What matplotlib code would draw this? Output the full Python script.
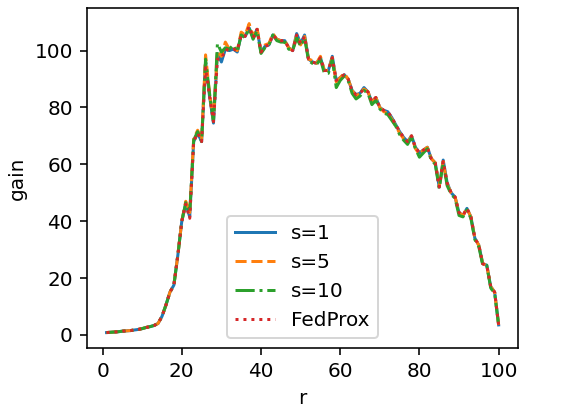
import numpy as np
import matplotlib; matplotlib.use("Agg")
import matplotlib.pyplot as plt

r = list(range(1, 101))

s1 = [0.8, 0.9, 1.0, 1.1, 1.3, 1.4, 1.5, 1.7, 1.9, 2.2, 2.6, 2.9, 3.3,
      4.0, 6.5, 10.5, 15.0, 17.5, 28.0, 40.0, 46.0, 41.5, 68.0, 71.0, 68.0, 96.0, 84.0, 74.5, 99.0, 96.0,
      100.5, 100.0, 100.5, 99.5, 105.5, 105.0, 108.0, 104.5, 107.5, 99.5, 101.5, 102.0, 105.5, 104.0, 103.5,
      103.5, 101.0, 100.0, 106.0, 102.5, 105.5, 97.0, 96.0, 95.5, 97.5, 93.0, 93.0, 98.0, 89.5, 90.5,
      91.5, 90.0, 86.0, 84.5, 85.0, 87.0, 85.5, 82.0, 83.5, 80.0, 79.0, 78.5, 76.5, 74.0, 71.5,
      69.5, 68.0, 70.0, 66.0, 64.0, 65.0, 66.0, 62.0, 60.5, 52.0, 61.5, 53.5, 50.0, 48.5, 43.0,
      42.0, 44.5, 41.5, 34.0, 31.5, 25.0, 24.5, 17.0, 15.0, 3.5]

s5 = [0.8, 0.9, 1.0, 1.1, 1.3, 1.4, 1.5, 1.7, 1.9, 2.2, 2.6, 2.9, 3.3,
      4.0, 6.5, 10.5, 15.0, 17.5, 28.0, 40.0, 47.0, 43.0, 69.0, 72.0, 68.5, 98.5, 85.0, 75.5, 100.0, 98.0,
      103.0, 100.5, 101.0, 100.0, 106.5, 105.5, 109.5, 105.0, 108.0, 99.5, 102.0, 102.5, 106.0, 104.0, 103.5,
      103.5, 101.0, 100.0, 105.5, 102.0, 105.0, 97.0, 96.5, 95.5, 98.0, 93.0, 93.0, 97.5, 89.0, 90.5,
      92.0, 90.0, 86.0, 84.0, 85.0, 86.5, 85.5, 82.0, 83.5, 80.0, 78.5, 78.0, 76.0, 73.5, 71.0,
      69.0, 67.5, 70.0, 65.5, 63.5, 65.0, 66.0, 62.0, 60.5, 52.5, 61.0, 53.0, 50.0, 48.5, 43.0,
      42.0, 44.5, 41.5, 34.0, 31.5, 25.0, 24.5, 17.0, 15.0, 3.5]

s10 = [0.8, 0.9, 1.0, 1.1, 1.3, 1.4, 1.5, 1.7, 1.9, 2.2, 2.6, 2.9, 3.3,
       4.0, 6.5, 10.5, 15.0, 17.5, 28.0, 40.0, 46.5, 43.0, 68.5, 71.5, 68.0, 97.0, 85.0, 75.0, 102.5, 99.5,
       101.0, 100.5, 102.0, 99.5, 105.5, 104.5, 108.0, 104.0, 107.0, 99.0, 101.0, 102.0, 105.5, 103.5, 103.0,
       103.0, 100.5, 100.0, 104.5, 101.5, 104.5, 96.5, 95.5, 95.0, 97.0, 92.0, 92.0, 97.0, 87.0, 89.5,
       91.0, 89.5, 85.0, 83.0, 84.0, 86.0, 85.0, 81.0, 82.5, 79.5, 78.0, 77.5, 75.5, 73.5, 70.5,
       68.5, 67.0, 69.5, 65.5, 62.5, 64.0, 65.5, 61.5, 60.0, 51.5, 60.5, 52.5, 49.5, 48.0, 42.0,
       41.5, 44.0, 41.0, 33.5, 31.0, 24.5, 24.5, 16.5, 14.5, 3.5]

fedprox = [0.8, 0.9, 1.0, 1.1, 1.3, 1.4, 1.5, 1.7, 1.9, 2.2, 2.6, 2.9, 3.3,
           4.0, 6.5, 10.5, 15.0, 17.5, 28.0, 40.0, 46.0, 41.0, 68.0, 71.0, 68.0, 94.0, 84.0, 75.0, 97.0, 97.0,
           100.5, 100.0, 100.5, 100.0, 105.5, 105.0, 108.5, 104.5, 107.5, 99.5, 101.5, 102.0, 105.5, 104.0, 103.5,
           103.5, 101.0, 100.0, 105.5, 102.5, 105.0, 97.0, 96.0, 95.5, 97.5, 93.0, 93.0, 97.5, 89.5, 90.5,
           91.5, 90.0, 86.0, 84.5, 85.0, 86.5, 85.5, 82.0, 83.5, 80.0, 79.0, 78.5, 76.5, 74.0, 71.5,
           69.5, 68.0, 70.0, 66.0, 64.0, 65.0, 66.0, 62.0, 60.5, 52.0, 61.0, 53.5, 50.0, 48.5, 43.0,
           42.0, 44.5, 41.5, 34.0, 31.5, 25.0, 24.5, 17.0, 15.0, 3.5]

fig, ax = plt.subplots(figsize=(572/144, 408/144), dpi=144)
fig.subplots_adjust(left=0.152, right=0.906, bottom=0.147, top=0.980)
ax.plot(r, s1, "-", label="s=1")
ax.plot(r, s5, "--", label="s=5")
ax.plot(r, s10, "-.", label="s=10")
ax.plot(r, fedprox, ":", label="FedProx")
ax.set_xlabel("r")
ax.set_ylabel("gain")
ax.legend(loc="lower center")
fig.savefig("out.png", dpi=144)
